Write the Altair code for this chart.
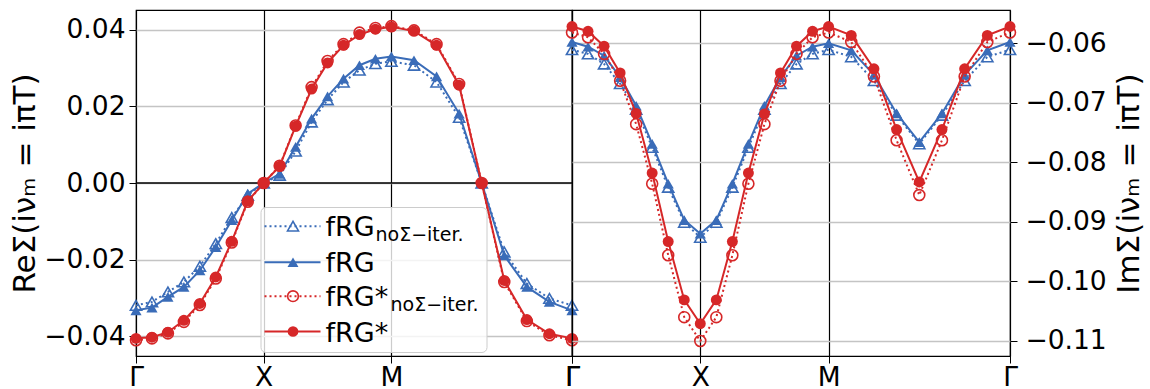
import altair as alt
import pandas as pd

# k-path coordinate (Γ -> X -> M -> Γ), path length units
kpath = [0.0, 0.125, 0.25, 0.375, 0.5, 0.625, 0.75, 0.875, 1.0,
         1.125, 1.25, 1.375, 1.5, 1.625, 1.75, 1.875, 2.0,
         2.1768, 2.3536, 2.5303, 2.7071, 2.8839, 3.0607, 3.2374, 3.4142]
k_ticks = [0.0, 1.0, 2.0, 3.4142]
k_labels = ["Γ", "X", "M", "Γ"]

# Re Sigma
re_frg_no = [-0.0319, -0.0310, -0.0284, -0.0258, -0.0217, -0.0158, -0.0090, -0.0032, 0.0,
             0.0020, 0.0083, 0.0159, 0.0217, 0.0263, 0.0294, 0.0311, 0.0317,
             0.0307, 0.0263, 0.0171, 0.0, -0.0180, -0.0262, -0.0301, -0.0319]
re_frg = [-0.0332, -0.0325, -0.0297, -0.0271, -0.0228, -0.0167, -0.0097, -0.0028, 0.0,
          0.0024, 0.0094, 0.0168, 0.0226, 0.0272, 0.0307, 0.0324, 0.0330,
          0.0320, 0.0278, 0.0181, 0.0, -0.0189, -0.0271, -0.0310, -0.0332]
re_frgs_no = [-0.0410, -0.0405, -0.0392, -0.0362, -0.0318, -0.0249, -0.0155, -0.0049, 0.0,
              0.0045, 0.0150, 0.0250, 0.0318, 0.0362, 0.0392, 0.0404, 0.0409,
              0.0398, 0.0362, 0.0258, 0.0, -0.0258, -0.0360, -0.0397, -0.0410]
re_frgs = [-0.0405, -0.0402, -0.0389, -0.0358, -0.0314, -0.0245, -0.0152, -0.0047, 0.0,
           0.0044, 0.0148, 0.0245, 0.0313, 0.0359, 0.0387, 0.0401, 0.0407,
           0.0396, 0.0359, 0.0255, 0.0, -0.0254, -0.0356, -0.0393, -0.0405]

# Im Sigma
im_frg_no = [-0.0611, -0.0618, -0.0635, -0.0668, -0.0711, -0.0775, -0.0842, -0.0901, -0.0926,
             -0.0901, -0.0842, -0.0775, -0.0711, -0.0668, -0.0635, -0.0618, -0.0611,
             -0.0623, -0.0663, -0.0721, -0.0769, -0.0721, -0.0663, -0.0623, -0.0611]
im_frg = [-0.0598, -0.0606, -0.0621, -0.0657, -0.0705, -0.0769, -0.0836, -0.0897, -0.0920,
          -0.0897, -0.0836, -0.0769, -0.0705, -0.0657, -0.0621, -0.0606, -0.0600,
          -0.0612, -0.0653, -0.0718, -0.0766, -0.0718, -0.0653, -0.0612, -0.0598]
im_frgs_no = [-0.0582, -0.0590, -0.0618, -0.0663, -0.0736, -0.0836, -0.0956, -0.1060, -0.1100,
              -0.1060, -0.0956, -0.0836, -0.0736, -0.0663, -0.0618, -0.0590, -0.0582,
              -0.0598, -0.0656, -0.0763, -0.0855, -0.0763, -0.0656, -0.0598, -0.0582]
im_frgs = [-0.0572, -0.0580, -0.0605, -0.0650, -0.0718, -0.0818, -0.0933, -0.1031, -0.1071,
           -0.1031, -0.0933, -0.0818, -0.0719, -0.0650, -0.0605, -0.0580, -0.0572,
           -0.0587, -0.0643, -0.0745, -0.0833, -0.0745, -0.0643, -0.0587, -0.0572]

re_ticks = [-0.04, -0.02, 0.0, 0.02, 0.04]
im_ticks = [-0.11, -0.10, -0.09, -0.08, -0.07, -0.06]
zero_line = [0.0]

legend_main = ["fRG", "fRG", "fRG*", "fRG*"]
legend_sub = ["noΣ−iter.", "", "noΣ−iter.", ""]

BLUE = "#3a6cb8"
RED = "#d62728"
FONT = "DejaVu Sans"

# style per series: color, shape, filled, dashed
styles = [
    (BLUE, "triangle-up", False, True),
    (BLUE, "triangle-up", True, False),
    (RED, "circle", False, True),
    (RED, "circle", True, False),
]

label_expr = ("datum.value < 0.5 ? 'Γ' : datum.value < 1.5 ? 'X' : "
              "datum.value < 2.5 ? 'M' : 'Γ'")

W_L, W_R, H = 436, 438, 346
TICK_FS = 26.5


def x_enc():
    return alt.X("k:Q",
                 scale=alt.Scale(domain=[0, 3.4142], nice=False, zero=False),
                 axis=alt.Axis(values=k_ticks, labelExpr=label_expr, title=None,
                               grid=True, gridColor="black", gridWidth=1.2,
                               domain=False, tickSize=7, tickColor="black",
                               labelFontSize=TICK_FS, labelFont=FONT, labelColor="black",
                               labelPadding=1, labelFlush=False))


def y_enc(domain, ticks, orient, title):
    kw = dict(values=ticks, format=".2f", title=title, orient=orient,
              grid=True, gridColor="#c4c4c4", gridWidth=1.5,
              domain=False, tickSize=7, tickColor="black",
              labelFontSize=TICK_FS, labelFont=FONT, labelColor="black",
              titleFontSize=31, titleFont=FONT, titleFontWeight="normal",
              titleColor="black", labelFlush=False)
    if orient == "right":
        kw.update(titleAngle=270, titleBaseline="top", labelPadding=8, titlePadding=8)
    else:
        kw.update(labelPadding=4, titlePadding=2)
    return alt.Y("v:Q", scale=alt.Scale(domain=domain, nice=False, zero=False),
                 axis=alt.Axis(**kw))


def series_layers(vals_list, domain, ticks, orient, title):
    layers = []
    for vals, (color, shape, filled, dashed) in zip(vals_list, styles):
        df = pd.DataFrame({"k": kpath, "v": vals})
        base = alt.Chart(df)
        line_kw = dict(color=color, strokeWidth=2)
        if dashed:
            line_kw["strokeDash"] = [2, 3]
        layers.append(base.mark_line(**line_kw).encode(
            x=x_enc(), y=y_enc(domain, ticks, orient, title)))
        pt_kw = dict(shape=shape, size=120 if shape == "circle" else 125,
                     opacity=1, color=color, filled=filled)
        if not filled:
            pt_kw["strokeWidth"] = 1.6
        layers.append(base.mark_point(**pt_kw).encode(
            x=x_enc(), y=y_enc(domain, ticks, orient, title)))
    return layers


re_dom = [-0.0451, 0.0451]
im_dom = [-0.11252, -0.05443]
re_title = "ReΣ(iνₘ = iπT)"
im_title = "ImΣ(iνₘ = iπT)"

# zero line in left panel
zero_layer = alt.Chart(pd.DataFrame({"v": zero_line})).mark_rule(
    color="black", strokeWidth=1.6).encode(y=y_enc(re_dom, re_ticks, "left", re_title))

left_layers = [zero_layer] + series_layers(
    [re_frg_no, re_frg, re_frgs_no, re_frgs], re_dom, re_ticks, "left", re_title)

# legend (drawn inside left panel)
one = pd.DataFrame({"i": [0]})
box = alt.Chart(one).mark_rect(fill="white", fillOpacity=0.8, stroke="#cccccc",
                               strokeWidth=1, cornerRadius=5).encode(
    x=alt.value(125), x2=alt.value(351), y=alt.value(197.5), y2=alt.value(342.5))
leg_layers = [box]
row_y = [216.2, 252.2, 286.2, 321.5]
sub_dx = [50, 50, 65, 65]
for i, (color, shape, filled, dashed) in enumerate(styles):
    ry = row_y[i]
    rk = dict(color=color, strokeWidth=2)
    if dashed:
        rk["strokeDash"] = [2, 3]
    leg_layers.append(alt.Chart(one).mark_rule(**rk).encode(
        x=alt.value(128.5), x2=alt.value(184.5), y=alt.value(ry)))
    pk = dict(shape=shape, size=115 if shape == "circle" else 120, opacity=1,
              color=color, filled=filled)
    if not filled:
        pk["strokeWidth"] = 1.6
    leg_layers.append(alt.Chart(one).mark_point(**pk).encode(
        x=alt.value(157), y=alt.value(ry)))
    leg_layers.append(alt.Chart(one).mark_text(
        text=legend_main[i], font=FONT, fontSize=27, align="left",
        baseline="alphabetic", color="black").encode(
        x=alt.value(189.5), y=alt.value(ry + 10)))
    if legend_sub[i]:
        leg_layers.append(alt.Chart(one).mark_text(
            text=legend_sub[i], font=FONT, fontSize=19, align="left",
            baseline="alphabetic", color="black").encode(
            x=alt.value(189.5 + sub_dx[i]), y=alt.value(ry + 14.5)))

left = alt.layer(*(left_layers + leg_layers)).properties(width=W_L, height=H)

right_layers = series_layers([im_frg_no, im_frg, im_frgs_no, im_frgs],
                             im_dom, im_ticks, "right", im_title)
right = alt.layer(*right_layers).properties(width=W_R, height=H)

chart = alt.hconcat(left, right, spacing=0, bounds="flush").properties(
    padding={"left": 9, "top": 9, "right": 1, "bottom": 5}
).configure_view(stroke="black", strokeWidth=1.2)

chart.save("out.html", embed_options={"renderer": "svg", "actions": False})
